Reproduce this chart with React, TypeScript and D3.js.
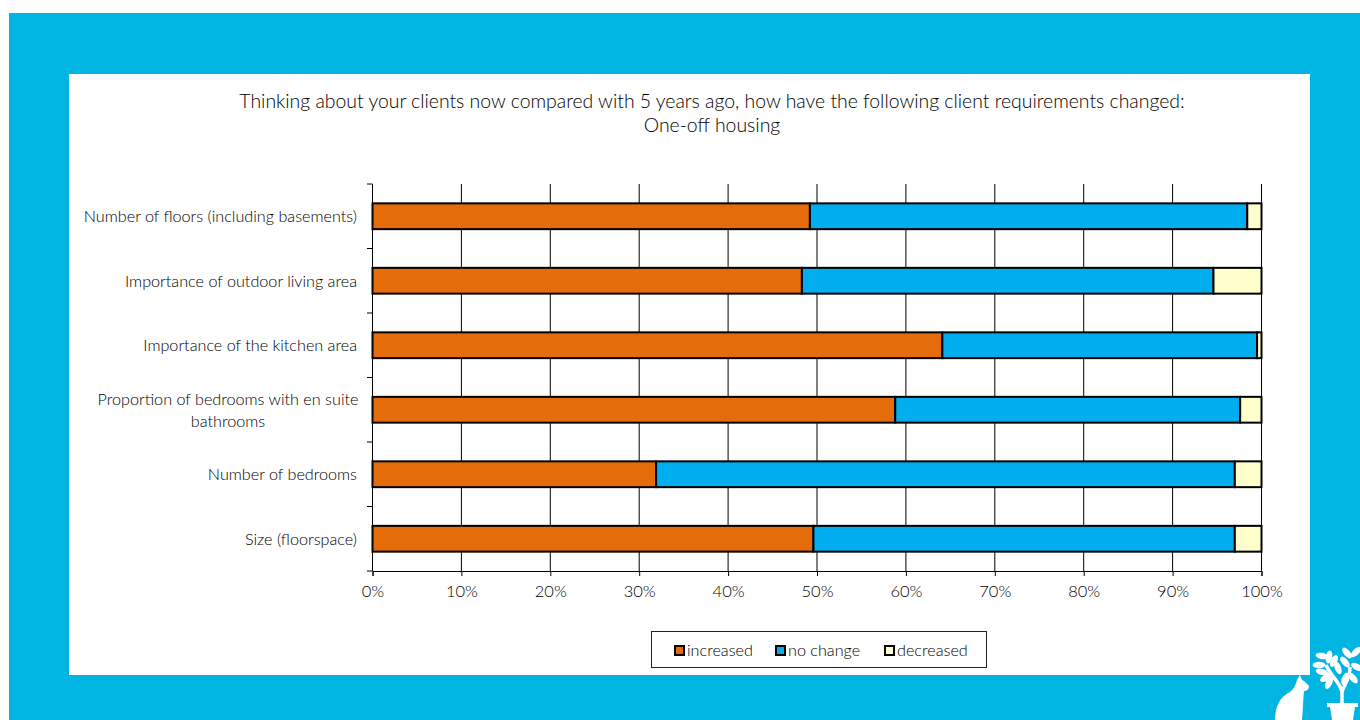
import React, { useRef, useEffect } from 'react';
import * as d3 from 'd3';

const CATEGORIES = [
  'Number of floors (including basements)',
  'Importance of outdoor living area',
  'Importance of the kitchen area',
  'Proportion of bedrooms with en suite bathrooms',
  'Number of bedrooms',
  'Size (floorspace)',
];
const SERIES_NAMES = ['increased', 'no change', 'decreased'];
const INCREASED = [49.2, 48.3, 64.1, 58.8, 31.9, 49.6];
const NO_CHANGE = [49.2, 46.3, 35.4, 38.8, 65.1, 47.4];
const DECREASED = [1.6, 5.4, 0.5, 2.4, 3.0, 3.0];
const X_TICKS = [0, 10, 20, 30, 40, 50, 60, 70, 80, 90, 100];
const TITLE_LINES = [
  'Thinking about your clients now compared with 5 years ago, how have the following client requirements changed:',
  'One-off housing',
];

const COLORS = ['#e46c0a', '#00aeef', '#ffffcc'];
const FRAME_BLUE = '#00b5e2';
const FONT = 'Lato, sans-serif';
const TEXT = '#000';

export default function App() {
  const svgRef = useRef<SVGSVGElement>(null);

  useEffect(() => {
    const svg = d3.select(svgRef.current!);
    svg.selectAll('*').remove();

    // frame and white panel
    svg.append('rect').attr('x', 9).attr('y', 13).attr('width', 1351).attr('height', 707).attr('fill', FRAME_BLUE);
    svg.append('rect').attr('x', 69).attr('y', 74).attr('width', 1241).attr('height', 601).attr('fill', '#fff');

    // title
    TITLE_LINES.forEach((line, i) => {
      svg.append('text')
        .attr('x', 712).attr('y', 108 + i * 24)
        .attr('text-anchor', 'middle')
        .attr('font-family', FONT).attr('font-size', '19.4px').attr('font-weight', 300)
        .attr('fill', TEXT)
        .text(line);
    });

    const x = d3.scaleLinear().domain([0, 100]).range([372.5, 1261.5]);
    const y = d3.scaleBand().domain(CATEGORIES).range([184, 571]).paddingInner(0.6).paddingOuter(0.3);
    const bandStep = y.step();

    // vertical gridlines
    svg.append('g')
      .selectAll('line')
      .data(X_TICKS)
      .join('line')
      .attr('x1', d => x(d)).attr('x2', d => x(d))
      .attr('y1', 184).attr('y2', 571)
      .attr('stroke', '#000').attr('stroke-width', 1);

    // stacked bars
    const rows = CATEGORIES.map((c, i) => ({ c, a: INCREASED[i], b: NO_CHANGE[i], d: DECREASED[i] }));
    const stack = d3.stack<any>().keys(['a', 'b', 'd'])(rows);
    stack.forEach((layer, li) => {
      svg.append('g')
        .selectAll('rect')
        .data(layer)
        .join('rect')
        .attr('x', d => x(d[0]))
        .attr('y', d => y(d.data.c)!)
        .attr('width', d => x(d[1]) - x(d[0]))
        .attr('height', y.bandwidth())
        .attr('fill', COLORS[li])
        .attr('stroke', '#000').attr('stroke-width', 2);
    });

    // y axis: ticks between the categories
    const yAxis = svg.append('g');
    yAxis.append('line')
      .attr('x1', 372.5).attr('x2', 372.5).attr('y1', 184).attr('y2', 571)
      .attr('stroke', '#000');
    yAxis.selectAll('line.tick')
      .data(d3.range(CATEGORIES.length + 1))
      .join('line')
      .attr('class', 'tick')
      .attr('x1', 367).attr('x2', 372.5)
      .attr('y1', i => 184 + i * bandStep).attr('y2', i => 184 + i * bandStep)
      .attr('stroke', '#000');

    // y labels (wrap the long one the way the source does)
    CATEGORIES.forEach(c => {
      const cy = y(c)! + y.bandwidth() / 2;
      const lines = c.startsWith('Proportion')
        ? ['Proportion of bedrooms with en suite', 'bathrooms']
        : [c];
      lines.forEach((line, i) => {
        const isWrapped = lines.length > 1;
        svg.append('text')
          .attr('x', isWrapped ? 228 : 357)
          .attr('y', cy + 6 + (i - (lines.length - 1) / 2) * 21.5)
          .attr('text-anchor', isWrapped ? 'middle' : 'end')
          .attr('font-family', FONT).attr('font-size', '16.2px').attr('font-weight', 300)
          .attr('fill', TEXT)
          .text(line);
      });
    });

    // x axis
    const xAxis = svg.append('g')
      .attr('transform', 'translate(0,571)')
      .call(d3.axisBottom(x).tickValues(X_TICKS).tickSize(5).tickPadding(9).tickFormat(d => `${d}%`));
    xAxis.select('.domain').attr('stroke', '#000');
    xAxis.selectAll('line').attr('stroke', '#000');
    xAxis.selectAll('text')
      .attr('fill', TEXT)
      .attr('font-family', FONT).attr('font-size', '16.5px').attr('font-weight', 300);

    // legend
    svg.append('rect')
      .attr('x', 651.5).attr('y', 631.5).attr('width', 335).attr('height', 36)
      .attr('fill', '#fff').attr('stroke', '#222').attr('stroke-width', 1);
    const legendX = [675, 776, 885];
    SERIES_NAMES.forEach((name, i) => {
      svg.append('rect')
        .attr('x', legendX[i]).attr('y', 646).attr('width', 9).attr('height', 9)
        .attr('fill', COLORS[i]).attr('stroke', '#000').attr('stroke-width', 2);
      svg.append('text')
        .attr('x', legendX[i] + 12).attr('y', 656)
        .attr('font-family', FONT).attr('font-size', '16.2px').attr('font-weight', 300)
        .attr('fill', TEXT)
        .text(name);
    });

    // cat and potted tree in the corner
    const deco = svg.append('g').attr('fill', '#fff').attr('stroke', 'none');
    deco.append('path').attr('d',
      'M1275 720 C1275 706 1280 697 1290 692 C1294 689 1296 684 1297 680 L1300 675 L1302 680 C1305 681 1307 684 1309 686 C1309 689 1307 691 1304 691 C1303 700 1303 710 1302 720 Z');
    deco.append('path').attr('d', 'M1327 703 L1358 703 L1358 707 L1355 707 L1353 720 L1332 720 L1330 707 L1327 707 Z');
    deco.append('path')
      .attr('d', 'M1342 703 L1342 692 C1340 682 1332 678 1326 665 M1342 692 C1344 684 1350 680 1350 667 M1335 679 L1329 672')
      .attr('fill', 'none').attr('stroke', '#fff').attr('stroke-width', 3.5);
    const leaves: [number, number, number][] = [
      [1322, 656, 10], [1329, 657, 100], [1319, 665, 0], [1322, 672, 15], [1326, 678, -25], [1329, 683, -65],
      [1334, 661, 115], [1338, 668, 70], [1345, 662, 50], [1347, 653, 50], [1356, 652, -45], [1357, 667, 30],
      [1353, 678, 50], [1345, 679, -70],
    ];
    leaves.forEach(([cx, cy, rot]) => {
      deco.append('ellipse')
        .attr('cx', cx).attr('cy', cy).attr('rx', 6.5).attr('ry', 3.2)
        .attr('transform', `rotate(${rot} ${cx} ${cy})`);
    });
  }, []);

  return (
    <svg
      ref={svgRef}
      width={1360}
      height={720}
      viewBox="0 0 1360 720"
      style={{ position: 'fixed', top: 0, left: 0, display: 'block', background: '#fff' }}
    />
  );
}
